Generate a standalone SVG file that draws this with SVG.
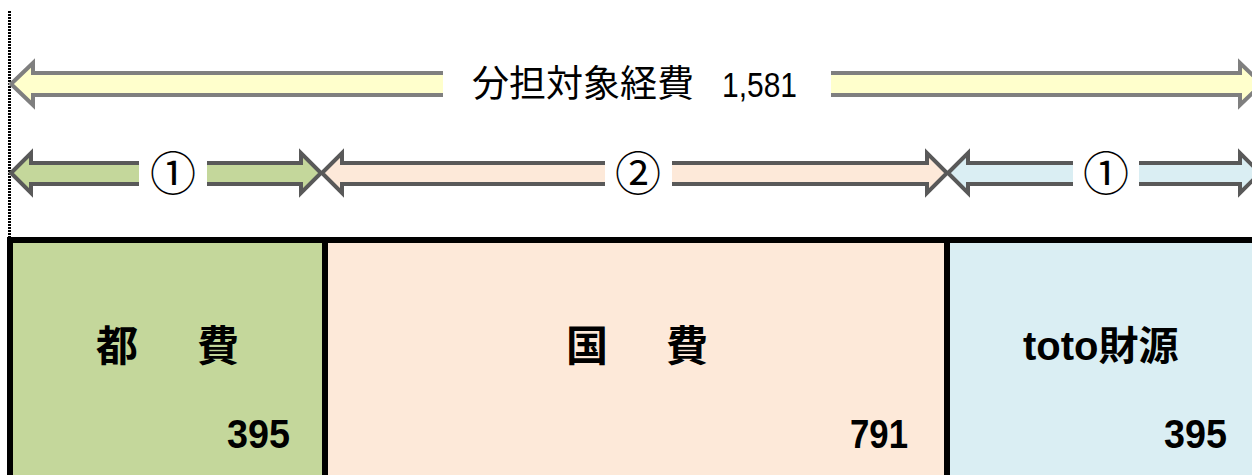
<svg xmlns="http://www.w3.org/2000/svg" width="1252" height="475" viewBox="0 0 1252 475">
<style>
.ar1{stroke:#7f7f7f;stroke-width:4;stroke-linejoin:miter}
.ar2{stroke:#595959;stroke-width:4;stroke-linejoin:miter}
.gap{fill:#ffffff;stroke:none}
.box{stroke:none}
.border{stroke:#000;stroke-width:6;fill:none}
.jp{font-family:"Noto Sans CJK JP","Noto Sans CJK SC",sans-serif;fill:#000}
.num{font-family:"Liberation Sans","Noto Sans",sans-serif;fill:#000}
.bold{font-weight:bold}
</style>
<rect x="0" y="0" width="1252" height="475" fill="#ffffff"/>
<line x1="9.5" y1="11" x2="9.5" y2="237" stroke="#000" stroke-width="3" stroke-dasharray="2 1"/>
<g id="connectors">
  <g id="arrow-total">
    <path class="ar1" fill="#ffffcc" d="M11,84 L33,63 L33,73 L1240,73 L1240,63 L1262,84 L1240,105 L1240,95 L33,95 L33,105 Z"/>
    <rect class="gap" x="443" y="60" width="388" height="48"/>
  </g>
  <g id="arrow-tohi">
    <path class="ar2" fill="#c4d79b" d="M11,173 L31,153 L31,163 L301,163 L301,153 L321,173 L301,193 L301,184 L31,184 L31,193 Z"/>
    <rect class="gap" x="139" y="150" width="68" height="46"/>
  </g>
  <g id="arrow-kokuhi">
    <path class="ar2" fill="#fde9d9" d="M322,173 L342,153 L342,163 L927,163 L927,153 L947,173 L927,193 L927,184 L342,184 L342,193 Z"/>
    <rect class="gap" x="605" y="150" width="67" height="46"/>
  </g>
  <g id="arrow-toto">
    <path class="ar2" fill="#daeef3" d="M948,173 L968,153 L968,163 L1240,163 L1240,153 L1260,173 L1240,193 L1240,184 L968,184 L968,193 Z"/>
    <rect class="gap" x="1073" y="150" width="66" height="46"/>
  </g>
</g>
<g id="label-total">
  <text class="jp" x="472" y="97" font-size="37">分担対象経費</text>
  <text class="num" x="722" y="97" font-size="35" textLength="75" lengthAdjust="spacingAndGlyphs">1,581</text>
</g>
<text id="label-1a" class="jp" x="173" y="190" font-size="46" text-anchor="middle">①</text>
<text id="label-2" class="jp" x="638" y="190" font-size="46" text-anchor="middle">②</text>
<text id="label-1b" class="jp" x="1106" y="190" font-size="46" text-anchor="middle">①</text>
<g id="node-tohi">
  <rect class="box" x="10" y="240" width="315" height="240" fill="#c4d79b"/>
  <text class="jp bold" y="361" font-size="42"><tspan x="96">都</tspan><tspan x="197">費</tspan></text>
  <text class="num bold" x="290" y="448" font-size="41" text-anchor="end" textLength="63" lengthAdjust="spacingAndGlyphs">395</text>
</g>
<g id="node-kokuhi">
  <rect class="box" x="325" y="240" width="622" height="240" fill="#fde9d9"/>
  <text class="jp bold" y="361" font-size="42"><tspan x="566">国</tspan><tspan x="666">費</tspan></text>
  <text class="num bold" x="908" y="448" font-size="41" text-anchor="end" textLength="58" lengthAdjust="spacingAndGlyphs">791</text>
</g>
<g id="node-toto">
  <rect class="box" x="947" y="240" width="320" height="240" fill="#daeef3"/>
  <text class="jp bold" y="360" font-size="40"><tspan class="num" x="1023">toto</tspan>財源</text>
  <text class="num bold" x="1227" y="448" font-size="41" text-anchor="end" textLength="63" lengthAdjust="spacingAndGlyphs">395</text>
</g>
<path class="border" d="M10,480 L10,240 L1262,240 M325,240 L325,480 M947,240 L947,480"/>
</svg>
